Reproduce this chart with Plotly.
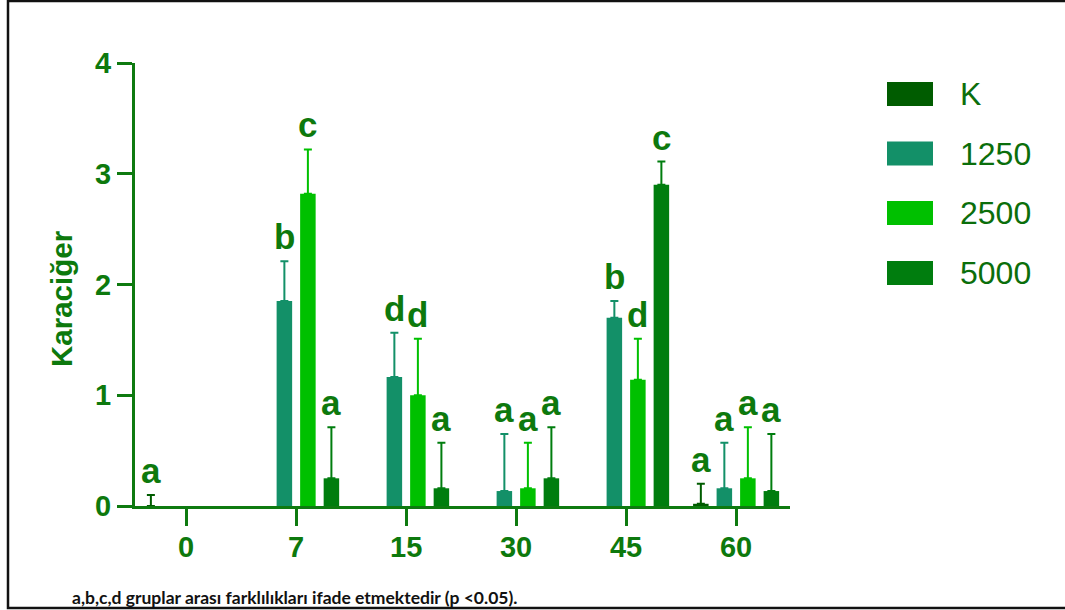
import plotly.graph_objects as go

# Days after treatment (x categories)
days = ["0", "7", "15", "30", "45", "60"]

# Group names
groups = ["K", "1250", "2500", "5000"]

# Mean liver scores per group (None = no bar for that day)
k_vals = [0.0, None, None, None, None, 0.02]
d1250_vals = [None, 1.85, 1.165, 0.135, 1.70, 0.16]
d2500_vals = [None, 2.82, 1.00, 0.16, 1.14, 0.25]
d5000_vals = [None, 0.25, 0.16, 0.25, 2.90, 0.135]

# Upper error (SD)
k_err = [0.10, None, None, None, None, 0.18]
d1250_err = [None, 0.36, 0.40, 0.515, 0.15, 0.41]
d2500_err = [None, 0.40, 0.51, 0.41, 0.37, 0.46]
d5000_err = [None, 0.46, 0.41, 0.46, 0.21, 0.515]

# Significance letters
k_sig = ["a", None, None, None, None, "a"]
d1250_sig = [None, "b", "d", "a", "b", "a"]
d2500_sig = [None, "c", "d", "a", "d", "a"]
d5000_sig = [None, "a", "a", "a", "c", "a"]

y_ticks = [0, 1, 2, 3, 4]

colors = ["#005C00", "#139068", "#00C000", "#007D0E"]
ink = "#0D790D"
axis_col = "#0E7A10"
FONT = "Liberation Sans, Arial, sans-serif"

W, H = 1065, 610
L, R, T, B = 135, 790, 63, 506  # plot area in pixels
BARGAP = 0.145
GROUPGAP = 0.34


def px(x):
    return (x - L) / (R - L)


def py(y):
    return (B - y) / (B - T)


series_vals = [k_vals, d1250_vals, d2500_vals, d5000_vals]
series_err = [k_err, d1250_err, d2500_err, d5000_err]
series_sig = [k_sig, d1250_sig, d2500_sig, d5000_sig]

fig = go.Figure()
for name, vals, errs, col in zip(groups, series_vals, series_err, colors):
    fig.add_trace(go.Bar(
        x=days, y=vals, name=name,
        marker=dict(color=col, line=dict(width=0)),
        error_y=dict(type="data", array=[e if e is not None else 0 for e in errs],
                     arrayminus=[0] * len(errs), symmetric=False,
                     color=col, thickness=2, width=4),
        showlegend=False,
    ))

annotations = []
slot = (1 - BARGAP) / len(groups)
for k, (vals, errs, sig) in enumerate(zip(series_vals, series_err, series_sig)):
    for i, s in enumerate(sig):
        if s is None:
            continue
        top = vals[i] + errs[i]
        annotations.append(dict(
            x=i + (k - 1.5) * slot, y=top, xref="x", yref="y",
            text=s, showarrow=False, yanchor="bottom", xanchor="center",
            yshift=3, font=dict(family=FONT, size=35, color=ink, weight="bold"),
        ))

# Y-axis title
annotations.append(dict(
    x=px(61), y=py(299), xref="paper", yref="paper", text="Karaciğer",
    textangle=-90, showarrow=False, xanchor="center", yanchor="middle",
    font=dict(family=FONT, size=29.5, color=ink, weight="bold"),
))

# Footnote
annotations.append(dict(
    x=px(70), y=py(597), xref="paper", yref="paper",
    text="a,b,c,d gruplar arası farklılıkları ifade etmektedir (p <0.05).",
    showarrow=False, xanchor="left", yanchor="middle",
    font=dict(family="Lato, sans-serif", size=17.5, color="#111111", weight="bold"),
))

# Legend (large swatches)
shapes = []
leg_y = [94, 153.5, 213, 273]
for name, col, yc in zip(groups, colors, leg_y):
    shapes.append(dict(type="rect", xref="paper", yref="paper",
                       x0=px(887), x1=px(933), y0=py(yc + 12), y1=py(yc - 12),
                       fillcolor=col, line=dict(width=0)))
    annotations.append(dict(x=px(958), y=py(yc), xref="paper", yref="paper",
                            text=name, showarrow=False, xanchor="left", yanchor="middle",
                            font=dict(family=FONT, size=32, color="#0B6E0B")))

# Outer frame
shapes.append(dict(type="rect", xref="paper", yref="paper",
                   x0=px(8), x1=px(1075), y0=py(608), y1=py(1),
                   line=dict(color="#111111", width=2.5), fillcolor="rgba(0,0,0,0)"))

fig.update_layout(
    width=W, height=H,
    margin=dict(l=L, r=W - R, t=T, b=H - B),
    paper_bgcolor="white", plot_bgcolor="white",
    barmode="group", bargap=BARGAP, bargroupgap=GROUPGAP,
    annotations=annotations, shapes=shapes,
    xaxis=dict(type="category", range=[-0.465, 5.49],
               showline=True, linecolor=axis_col, linewidth=3,
               ticks="outside", ticklen=17, tickwidth=3, tickcolor=axis_col,
               ticklabelstandoff=-4,
               showgrid=False, zeroline=False,
               tickfont=dict(family=FONT, size=29, color=ink, weight="bold")),
    yaxis=dict(range=[0, 4], tickvals=y_ticks, ticktext=[str(v) for v in y_ticks],
               showline=True, linecolor=axis_col, linewidth=3,
               ticks="outside", ticklen=15, tickwidth=3, tickcolor=axis_col,
               showgrid=False, zeroline=False,
               tickfont=dict(family=FONT, size=29, color=ink, weight="bold")),
    showlegend=False,
)

fig.write_html("out.html")
